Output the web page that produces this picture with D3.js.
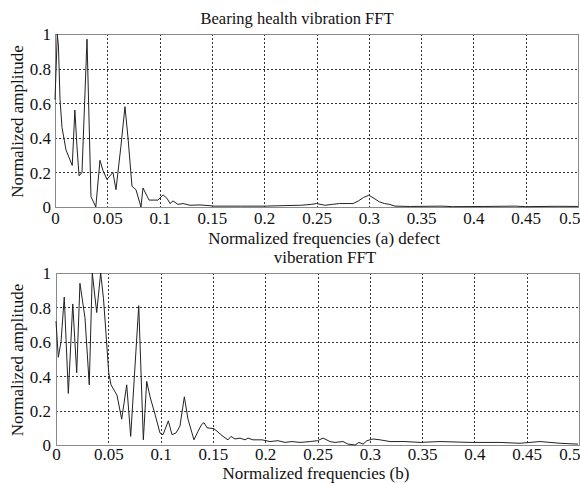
<!DOCTYPE html>
<html>
<head>
<meta charset="utf-8">
<script src="https://cdn.jsdelivr.net/npm/d3@7"></script>
<style>
  html, body { margin: 0; padding: 0; background: #fff; }
  svg text { font-family: "Liberation Serif", "Times New Roman", serif; fill: #111; }
</style>
</head>
<body>
<svg id="chart" width="580" height="484"></svg>
<script>
// Healthy bearing spectrum: normalized frequency vs normalized amplitude
const healthFreq = [0, 0.0022, 0.0033, 0.0048, 0.0067, 0.0105, 0.0165, 0.019, 0.021, 0.023, 0.0258,
  0.0306, 0.0344, 0.039, 0.043, 0.0459, 0.0497, 0.0554, 0.0583, 0.063, 0.0669, 0.0698, 0.0736,
  0.0774, 0.0822, 0.0841, 0.0899, 0.0985, 0.1033, 0.1071, 0.11, 0.1128, 0.1176, 0.1224, 0.129,
  0.1386, 0.153, 0.177, 0.2, 0.22, 0.235, 0.245, 0.25, 0.258, 0.265, 0.272, 0.28, 0.285, 0.29,
  0.295, 0.3, 0.305, 0.31, 0.315, 0.32, 0.325, 0.34, 0.37, 0.38, 0.41, 0.44, 0.45, 0.48, 0.5];
const healthAmp = [0.62, 1.0, 0.93, 0.62, 0.46, 0.33, 0.24, 0.56, 0.35, 0.18, 0.2,
  0.97, 0.06, 0.0, 0.27, 0.21, 0.16, 0.2, 0.1, 0.35, 0.58, 0.4, 0.12,
  0.1, 0.0, 0.11, 0.04, 0.04, 0.07, 0.05, 0.02, 0.035, 0.015, 0.02, 0.01,
  0.012, 0.005, 0.005, 0.005, 0.008, 0.01, 0.015, 0.02, 0.01, 0.015, 0.02, 0.02, 0.02, 0.035,
  0.055, 0.068, 0.05, 0.03, 0.02, 0.015, 0.005, 0.003, 0.005, 0.002, 0.003, 0.005, 0.002, 0.004, 0.003];

// Defective bearing spectrum
const defectFreq = [0, 0.0022, 0.0048, 0.0079, 0.0118, 0.016, 0.0198, 0.0229, 0.0277, 0.0318,
  0.0347, 0.0389, 0.0427, 0.0454, 0.0478, 0.0504, 0.0526, 0.0554, 0.0583, 0.0628, 0.0676,
  0.0714, 0.0791, 0.0835, 0.0867, 0.0899, 0.0946, 0.0994, 0.1023, 0.1074, 0.1109, 0.1147,
  0.1185, 0.1227, 0.1262, 0.1319, 0.1358, 0.1393, 0.1415, 0.1444, 0.151, 0.1558, 0.1597,
  0.1644, 0.1673, 0.1711, 0.1759, 0.1807, 0.1836, 0.1883, 0.197, 0.2046, 0.2122, 0.2189,
  0.2256, 0.2333, 0.243, 0.25, 0.2553, 0.262, 0.2667, 0.2744, 0.2792, 0.2859, 0.2897, 0.2935,
  0.2973, 0.3031, 0.3098, 0.3193, 0.3337, 0.348, 0.3671, 0.3958, 0.4245, 0.4436, 0.4627,
  0.4818, 0.499];
const defectAmp = [0.72, 0.51, 0.6, 0.86, 0.3, 0.82, 0.42, 0.94, 0.74, 0.35,
  1.0, 0.77, 1.0, 0.85, 0.65, 0.42, 0.35, 0.32, 0.29, 0.15, 0.35,
  0.05, 0.81, 0.03, 0.37, 0.28, 0.18, 0.07, 0.06, 0.14, 0.06, 0.07,
  0.11, 0.28, 0.15, 0.03, 0.08, 0.12, 0.13, 0.1, 0.095, 0.07, 0.05,
  0.03, 0.05, 0.035, 0.04, 0.03, 0.04, 0.03, 0.03, 0.02, 0.025, 0.015,
  0.02, 0.015, 0.02, 0.025, 0.04, 0.02, 0.015, 0.02, 0.005, 0.0, 0.015, 0.005,
  0.025, 0.035, 0.03, 0.02, 0.02, 0.015, 0.02, 0.015, 0.015, 0.01, 0.02,
  0.01, 0.005];

const xTicks = [0, 0.05, 0.1, 0.15, 0.2, 0.25, 0.3, 0.35, 0.4, 0.45, 0.5];
const yTicks = [0, 0.2, 0.4, 0.6, 0.8, 1];

const svg = d3.select("#chart");

function panel(cfg) {
  const x = d3.scaleLinear().domain([0, 0.5]).range([cfg.left, cfg.right]);
  const y = d3.scaleLinear().domain([0, 1]).range([cfg.bottom, cfg.top]);
  const g = svg.append("g");
  const h = cfg.bottom - cfg.top, w = cfg.right - cfg.left;

  // dotted grid
  const grid = g.append("g").attr("stroke", "#333").attr("stroke-width", 1)
    .attr("stroke-dasharray", "2,2");
  grid.selectAll("line.v").data(xTicks.slice(1, -1)).join("line")
    .attr("x1", d => Math.round(x(d)) + 0.5).attr("x2", d => Math.round(x(d)) + 0.5)
    .attr("y1", cfg.top).attr("y2", cfg.bottom);
  grid.selectAll("line.h").data(yTicks.slice(1, -1)).join("line")
    .attr("y1", d => Math.round(y(d)) + 0.5).attr("y2", d => Math.round(y(d)) + 0.5)
    .attr("x1", cfg.left).attr("x2", cfg.right);

  // axes box
  g.append("rect").attr("x", cfg.left + 0.5).attr("y", cfg.top + 0.5)
    .attr("width", w).attr("height", h)
    .attr("fill", "none").attr("stroke", "#8a8a8a").attr("stroke-width", 1);

  // tick labels
  const xAxis = d3.axisBottom(x).tickValues(xTicks).tickSize(0).tickPadding(0)
    .tickFormat(d3.format(""));
  const ax = g.append("g").attr("transform", `translate(0,${cfg.bottom})`).call(xAxis);
  ax.select(".domain").remove();
  ax.selectAll("text").attr("font-size", 17).attr("dy", null).attr("y", cfg.xLabelY - cfg.bottom)
    .attr("font-family", "Liberation Serif, serif").attr("fill", "#111");
  // keep the last label inside the page edge
  ax.selectAll("text").filter(d => d === 0.5).attr("text-anchor", "end").attr("x", 580 - x(0.5));

  const yAxis = d3.axisLeft(y).tickValues(yTicks).tickSize(0).tickPadding(0)
    .tickFormat(d3.format(""));
  const ay = g.append("g").attr("transform", `translate(${cfg.yLabelX},0)`).call(yAxis);
  ay.select(".domain").remove();
  ay.selectAll("text").attr("font-size", 17).attr("dy", "0.35em").attr("x", 0)
    .attr("font-family", "Liberation Serif, serif").attr("fill", "#111");

  // spectrum line
  const line = d3.line().x(d => x(d[0])).y(d => y(d[1]));
  g.append("path").datum(d3.zip(cfg.freq, cfg.amp))
    .attr("d", line).attr("fill", "none").attr("stroke", "#222").attr("stroke-width", 1);

  // y title
  g.append("text").attr("transform", `translate(23,${(cfg.top + cfg.bottom) / 2 + 1}) rotate(-90)`)
    .attr("text-anchor", "middle").attr("font-size", 17).text("Normalized amplitude");
}

panel({ left: 55, right: 578, top: 34, bottom: 207, xLabelY: 224, yLabelX: 51,
  freq: healthFreq, amp: healthAmp });
panel({ left: 56, right: 579, top: 273, bottom: 445, xLabelY: 460, yLabelX: 51,
  freq: defectFreq, amp: defectAmp });

// titles and axis captions
svg.append("text").attr("x", 297).attr("y", 24).attr("text-anchor", "middle")
  .attr("font-size", 16.5).text("Bearing health vibration FFT");
svg.append("text").attr("x", 324).attr("y", 244).attr("text-anchor", "middle")
  .attr("font-size", 17).text("Normalized frequencies (a) defect");
svg.append("text").attr("x", 325).attr("y", 263).attr("text-anchor", "middle")
  .attr("font-size", 17).text("viberation FFT");
svg.append("text").attr("x", 316).attr("y", 479).attr("text-anchor", "middle")
  .attr("font-size", 17).text("Normalized frequencies (b)");
</script>
</body>
</html>
